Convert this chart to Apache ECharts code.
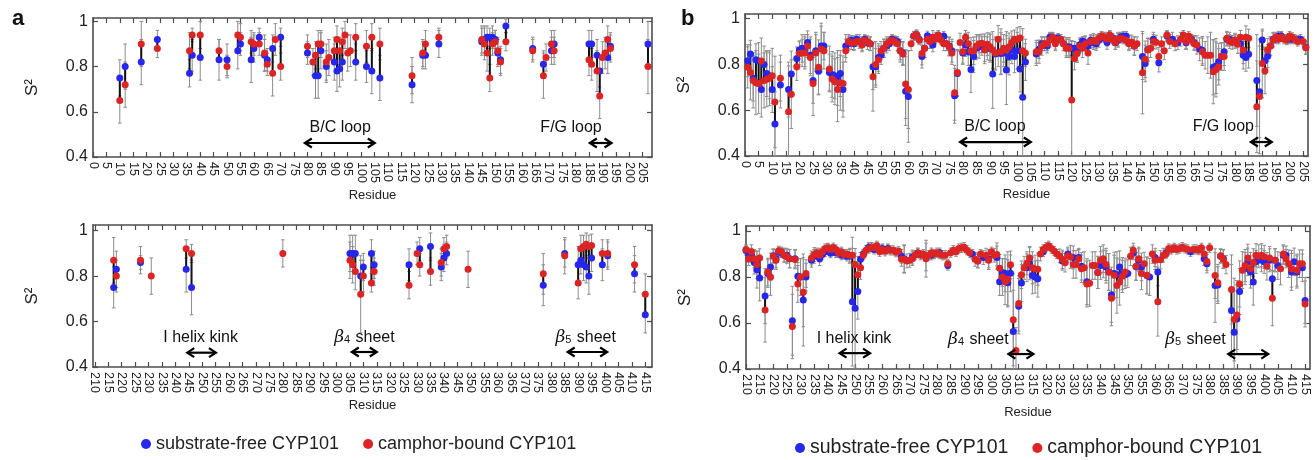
<!DOCTYPE html>
<html><head><meta charset="utf-8">
<script src="https://cdn.jsdelivr.net/npm/echarts@6/dist/echarts.min.js"></script>
<style>html,body{margin:0;padding:0;background:#fff}#c{width:1315px;height:460px}</style>
</head><body><div id="c"></div>
<script>
// ---------- tick labels ----------
const topTicks = [0,5,10,15,20,25,30,35,40,45,50,55,60,65,70,75,80,85,90,95,100,105,110,115,120,125,130,135,140,145,150,155,160,165,170,175,180,185,190,195,200,205];
const botTicks = [210,215,220,225,230,235,240,245,250,255,260,265,270,275,280,285,290,295,300,305,310,315,320,325,330,335,340,345,350,355,360,365,370,375,380,385,390,395,400,405,410,415];
const yTicks = [0.4,0.6,0.8,1];

// ---------- panel a, residues 0-209 ----------
const aTopRes = [10,12,18,24,36,37,40,47,50,54, 55,59,60,62,64,65,67,68,70,80, 82,83,84,85,87,88,90,91,92,93, 94,95,96,98,102,104,107,119,123,124, 129,145,146,147,148,149,150,151,152,154, 164,168,169,171,172,185,186,188,189,190, 191,192,193,207];
const aTopFree = [.75,.80,.82,.92,.77,.85,.84,.83,.83,.87, .90,.83,.88,.93,.85,.83,.88,null,.93,.86, null,.76,.76,.87,.80,null,.82,.78,.79,.82, null,null,null,.82,.80,.78,.75,.72,.85,.85, .90,.91,.92,.93,.93,.93,.92,.86,.83,.98, .88,.81,null,.87,.90,.90,.90,.85,.78,null, null,.84,.89,.90];
const aTopCamphor = [.65,.72,.90,.88,.87,.94,.94,.87,.80,.94, .93,.91,.90,.90,.86,.81,.77,.92,.80,.89, .82,.85,.90,.90,.82,.84,.87,.92,.87,.91, .94,.86,.87,.93,.89,.93,.90,.76,.86,.90, .93,.92,.90,.86,.75,.90,.91,.87,.82,.91, .87,.76,.84,.90,.87,.83,.81,.78,.67,.84, .86,.92,.88,.80];
const aTopFreeErr = [.08,.10,.10,.04,.06,.07,.10,.09,.07,.08, .05,.10,.06,.04,.07,.05,.06,0,.04,.05, 0,.10,.10,.08,.07,0,.08,.09,.08,.08, 0,0,0,.08,.07,.10,.10,.08,.06,.06, .06,.06,.06,.05,.04,.05,.04,.06,.06,.03, .05,.06,0,.06,.06,.06,.06,.07,.07,0, 0,.07,.06,.10];
const aTopCamphorErr = [.10,.10,.10,.04,.08,.03,.06,.05,.05,.06, .06,.05,.05,.05,.08,.05,.10,.07,.06,.05, .06,.06,.06,.06,.08,.08,.06,.06,.06,.06, .06,.08,.07,.06,.07,.06,.07,.08,.06,.06, .04,.06,.07,.08,.06,.05,.05,.06,.06,.04, .05,.10,.06,.06,.06,.07,.07,.09,.10,.07, .07,.06,.06,.12];

// ---------- panel a, residues 210-415 ----------
const aBotRes = [217,218,227,231,244,246,280,305,306,307, 309,310,313,314,327,330,331,335,339,340, 341,349,377,385,390,391,392,393,394,395, 399,401,411,415];
const aBotFree = [.75,.83,.86,null,.83,.75,null,.90,.90,.90, .80,.84,.90,.85,.85,null,.92,.93,.84,.88, .90,null,.76,.90,.85,.87,.85,.84,.80,.88, .85,.89,.81,.63];
const aBotCamphor = [.87,.80,.87,.80,.92,.90,.90,.87,.85,.82, .72,.80,.77,.82,.76,.90,.85,.82,.86,.92, .93,.83,.81,.89,.77,.92,.93,.94,.93,.935, .90,.90,.85,.72];
const aBotFreeErr = [.09,.08,.03,0,.10,.12,0,.08,.08,.08, .07,.06,.06,.06,.07,0,.05,.06,.06,.06, .05,0,.09,.06,.08,.06,.07,.07,.08,.06, .07,.06,.08,.08];
const aBotCamphorErr = [.10,.07,.06,.08,.04,.04,.06,.08,.08,.08, .17,.07,.04,.06,.06,.05,.05,.06,.06,.05, .05,.08,.09,.08,.07,.06,.05,.05,.05,.05, .06,.06,.08,.09];

// ---------- panel b, residues 0-206 ----------
const bTopRes = [1,2,3,4,5,6,7,8,9,10, 11,13,16,17,19,20,21,22,23,24, 25,26,27,28,29,31,32,33,34,35, 36,37,38,39,40,41,42,43,44,45, 46,47,48,49,50,51,52,53,54,55, 56,57,58,59,60,61,62,63,64,65, 66,67,68,69,70,71,72,73,74,75, 76,77,78,79,80,81,82,83,84,85, 86,87,88,89,90,91,92,93,94,95, 96,97,98,99,100,101,102,103,107,108, 109,110,111,112,113,114,115,116,117,118, 119,120,121,122,123,124,125,126,127,128, 129,130,131,132,133,134,135,136,137,138, 139,140,141,142,143,144,146,147,148,149, 150,151,152,153,154,155,156,157,158,159, 160,161,162,163,164,165,166,167,168,169, 170,171,172,173,174,175,176,177,178,179, 180,181,182,183,184,185,188,189,190,191, 192,193,194,195,196,197,198,199,200,201, 202,203,204,205,206];
const bTopFree = [.816,.845,.74,.82,.815,.69,.80,.76,.75,.69, .54,.71,.69,.758,.826,.863,.87,.86,.896,.84, .73,.86,.77,.88,.88,.765,.756,.75,.74,.76, .69,.88,.89,.905,.89,.91,.90,.89,.91,.895, .89,.79,.79,.83,.84,.87,.88,.89,.91,.905, .90,.86,.85,.683,.66,null,.924,.93,.91,.834, .87,.925,.90,.885,.92,.92,.91,.924,.89,.88, .86,.663,.76,null,.85,.885,.855,.778,.834,.87, .877,.88,.873,.87,.87,.758,.845,.85,.848,.85, .775,.834,.863,.834,.86,.78,.656,.81,.845,.866, .89,.89,.88,.92,.92,.897,.915,null,.89,.877, .877,.87,.87,.855,.886,.902,.895,.88,.905,.895, .89,.905,.92,.915,.896,.924,.915,.895,.905,.92, .924,.924,.896,null,.88,null,.834,.804,.865,null, .91,null,.807,null,null,.924,null,.91,null,.895, null,null,.895,null,.91,.896,null,.866,.862,null, null,null,.787,.793,.812,.834,.855,.91,.91,null, .90,null,.89,.84,.83,.844,.73,.68,.906,.816, .836,.88,.91,.91,.924,.924,null,.91,.91,.91, null,.906,.91,null,.875];
const bTopCamphor = [.787,.765,.73,.72,.715,.815,.73,.735,.74,.75, .636,.74,.593,.67,.79,.848,.85,.85,.88,.83, .717,.85,.787,.867,.86,.78,.736,.724,.69,.72, .717,.86,.90,.895,.895,.90,.90,.885,.905,.90, .89,.746,.80,.82,.86,.87,.89,.90,.905,.90, .89,.86,.845,.714,.69,.89,.924,.93,.906,.848, .87,.91,.90,.918,.91,.928,.906,.89,.89,.877, .85,.676,.765,.896,.855,.918,.89,.858,.86,.88, .89,.892,.863,.888,.877,.863,.85,.91,.855,.87, .863,.877,.896,.91,.91,.915,.86,.85,.855,.855, .88,.89,.89,.906,.918,.89,.91,.91,.89,.87, .87,.644,.826,.848,.88,.87,.89,.85,.90,.904, .90,.914,.924,.92,.91,.928,.91,.896,.91,.914, .91,.905,.89,.898,.88,.89,.764,.822,.863,.87, .90,.897,.834,.89,.86,.928,.90,null,.89,null, .91,.928,.90,.924,.906,.89,.885,null,.855,.84, .84,.84,.768,.778,.79,.834,.834,.914,.90,.896, .906,.888,.918,.863,.918,.914,.615,.66,.804,.772, .863,.88,.906,.92,.91,.92,.91,.906,.924,.918, .91,.90,null,.90,.873];
const bTopFreeErr = [.07,.06,.1,.07,.08,.12,.08,.1,.1,.1, .14,.1,.12,.1,.05,.04,.06,.07,.05,.08, .1,.08,.1,.1,.06,.08,.1,.1,.12,.1, .12,.05,.03,.02,.03,.02,.02,.03,.02,.03, .03,.1,.08,.06,.04,.04,.03,.03,.02,.02, .02,.04,.05,.15,.2,0,.02,.02,.02,.05, .04,.02,.03,.03,.02,.02,.02,.02,.03,.04, .05,.12,.1,0,.05,.05,.06,.1,.07,.05, .05,.04,.06,.05,.06,.15,.07,.06,.09,.06, .15,.08,.06,.07,.08,.1,.3,.08,.05,.04, .03,.03,.03,.02,.02,.03,.02,0,.03,.04, .04,.03,.03,.04,.03,.02,.03,.03,.02,.03, .03,.03,.02,.02,.03,.02,.02,.03,.03,.02, .02,.02,.03,0,.04,0,.1,.08,.05,0, .03,0,.04,0,0,.02,0,.03,0,.03, 0,0,.03,0,.02,.03,0,.05,.06,0, 0,0,.12,.12,.08,.06,.06,.03,.03,0, .03,0,.04,.06,.06,.06,.2,.2,.04,.06, .05,.04,.03,.02,.02,.02,0,.02,.02,.02, 0,.02,.02,0,.03];
const bTopCamphorErr = [.09,.12,.12,.14,.13,.1,.12,.12,.12,.12, .2,.1,.2,.15,.06,.05,.06,.07,.05,.08, .14,.08,.12,.1,.08,.1,.1,.1,.14,.12, .12,.05,.03,.03,.03,.02,.03,.03,.02,.02, .03,.15,.1,.06,.04,.04,.03,.02,.02,.02, .03,.05,.05,.15,.17,.03,.02,.02,.02,.05, .04,.02,.03,.03,.02,.02,.02,.03,.03,.04, .05,.12,.1,.04,.05,.03,.05,.06,.06,.05, .04,.04,.06,.05,.06,.08,.07,.06,.1,.06, .08,.06,.05,.04,.05,.05,.06,.06,.05,.05, .04,.03,.03,.03,.02,.03,.02,.02,.03,.04, .04,.26,.05,.04,.03,.04,.03,.05,.03,.03, .03,.02,.02,.02,.03,.02,.02,.03,.03,.02, .02,.02,.03,.03,.04,.03,.18,.08,.05,.04, .03,.03,.04,.03,.04,.02,.03,0,.03,0, .03,.02,.03,.02,.02,.03,.04,0,.06,.06, .08,.1,.14,.12,.08,.06,.06,.03,.03,.03, .03,.04,.03,.06,.05,.04,.2,.25,.15,.1, .05,.04,.03,.02,.02,.02,.02,.02,.02,.02, .02,.02,0,.02,.03];

// ---------- panel b, residues 210-415 ----------
const bBotRes = [210,211,212,213,214,215,217,218,219,220, 221,222,223,224,225,226,227,228,229,230, 231,232,234,235,236,237,238,239,240,241, 242,243,244,245,246,247,248,249,250,251, 252,253,254,255,256,257,258,259,260,261, 262,263,264,265,266,267,268,269,270,271, 272,273,274,275,276,277,278,279,280,281, 282,283,284,285,286,287,288,289,290,291, 292,293,294,295,296,297,298,299,300,301, 302,303,304,305,306,307,308,309,310,311, 312,313,314,315,316,317,318,319,320,321, 322,323,324,325,326,327,328,329,330,331, 332,333,334,335,336,337,338,339,340,341, 342,343,344,345,346,347,348,349,350,351, 352,353,354,355,356,357,358,359,360,361, 362,363,364,365,366,367,368,369,370,371, 372,373,374,375,376,377,378,379,380,382, 383,384,385,386,388,389,390,391,392,393, 394,395,396,397,398,399,400,401,402,403, 404,405,406,407,408,409,410,411,412,413, 414,415];
const bBotFree = [.915,.895,.895,.863,.832,.796,.717,.815,.844,.893, .88,.91,.905,.895,.895,.88,.61,.88,.803,.80, .70,.80,.873,.89,.898,.88,.898,.91,.924,.904, .915,.905,.906,.895,.898,.89,.89,.693,.664,.737, .877,.90,null,.93,.93,.92,.93,null,.924,null, .924,null,null,null,null,.89,.88,null,null,.887, null,.905,null,null,.887,null,.895,null,null,.906, null,null,.85,null,null,null,null,null,null,null, null,.90,null,.87,null,.885,null,.88,null,null, .885,.78,.82,.816,.775,.816,.563,null,.673,.774, null,.84,.858,.807,.80,.793,null,.91,null,null, null,null,null,null,.87,null,.90,null,.885,null, .885,.847,null,.78,null,null,null,.82,.85,.857, .844,.822,.723,.815,.81,.844,.815,.81,.815,null, .905,.845,.873,.844,null,.807,.80,null,.885,.822, null,null,.905,null,null,null,null,null,null,null, null,.91,null,null,null,null,.88,.858,null,.763, .765,.89,.88,null,.654,.56,.617,.737,null,.837, .866,.822,.778,.866,null,.873,.866,null,.873,.793, .873,.85,null,.895,.895,null,.822,.866,.822,null, .84,.698];
const bBotCamphor = [.92,.88,.91,.88,.854,.883,.657,.822,.80,.89, .873,.914,.91,.895,.888,.88,.585,.876,.77,.80, .734,.815,.883,.898,.906,.895,.91,.924,.927,.92, .928,.92,.904,.91,.898,.90,.895,.895,.854,.81, .84,.895,.917,.924,.93,.927,.936,.91,.92,.912, .92,.916,.916,.908,.912,.877,.877,.87,.873,.88, .895,.906,.895,.90,.88,.895,.906,.90,.906,.90, .895,.895,.858,.906,.917,.91,.924,.927,.93,.917, .906,null,.877,.87,.90,null,.895,.873,.91,.895, .898,.838,.80,.78,.79,.853,.614,.48,.685,.81, .84,.86,.883,.84,.835,.834,.90,.92,.93,.936, .924,.913,.90,.892,.877,.862,.892,.888,.855,.855, .88,.836,.84,.77,.773,.85,.85,.82,.873,.88, .855,.822,.708,.808,.763,.778,.803,.822,null,.89, .917,.847,.88,.815,.858,.807,null,.90,.873,.693, .875,.895,.90,.924,.92,.927,.92,.924,.93,.924, .92,null,.92,.92,.917,.927,.90,.868,.927,.807, .775,.893,.877,.854,.746,.615,.635,.77,.83,.85, .883,.837,.863,.895,.89,.895,.888,.847,.883,.708, .873,null,.836,.90,.88,.858,.836,null,.83,.858, .858,.683];
const bBotFreeErr = [.02,.03,.03,.05,.08,.1,.12,.06,.06,.03, .04,.02,.02,.03,.03,.04,.15,.04,.06,.08, .2,.06,.03,.03,.02,.03,.02,.02,.02,.02, .02,.02,.02,.02,.02,.02,.03,.28,.26,.12, .03,.02,0,.02,.02,.02,.02,0,.02,0, .02,0,0,0,0,.03,.06,0,0,.03, 0,.02,0,0,.06,0,.02,0,0,.02, 0,0,.02,0,0,0,0,0,0,0, 0,.02,0,.03,0,.03,0,.04,0,0, .05,.06,.06,.08,.1,.08,.18,0,.12,.08, 0,.06,.07,.08,.07,.08,0,.02,0,0, 0,0,0,0,.04,0,.03,0,.05,0, .04,.06,0,.1,0,0,0,.07,.06,.06, .07,.08,.12,.08,.1,.07,.07,.06,.06,0, .03,.06,.05,.06,0,.08,.08,0,.04,.06, 0,0,.02,0,0,0,0,0,0,0, 0,.02,0,0,0,0,.03,.04,0,.16, .08,.03,.04,0,.2,.18,.15,.1,0,.07, .06,.07,.1,.05,0,.05,.05,0,.05,.08, .05,.06,0,.04,.04,0,.08,.06,.07,0, .06,.1];
const bBotCamphorErr = [.02,.03,.03,.04,.06,.04,.14,.06,.08,.03, .04,.02,.02,.03,.03,.04,.14,.04,.08,.08, .15,.06,.03,.03,.02,.03,.02,.02,.02,.02, .02,.02,.02,.02,.02,.02,.03,.03,.05,.08, .05,.02,.02,.02,.02,.02,.02,.02,.02,.02, .02,.02,.02,.02,.02,.03,.06,.03,.03,.03, .02,.02,.02,.02,.08,.02,.02,.02,.02,.02, .02,.02,.02,.02,.02,.02,.02,.02,.02,.02, .02,0,.03,.03,.02,0,.03,.04,.02,.03, .05,.06,.08,.1,.12,.06,.2,.1,.12,.06, .05,.05,.05,.07,.06,.07,.03,.02,.02,.02, .02,.02,.02,.03,.04,.04,.03,.05,.06,.06, .04,.06,.07,.1,.1,.06,.06,.07,.06,.06, .07,.08,.12,.1,.12,.1,.07,.06,0,.04, .03,.06,.05,.07,.05,.08,0,.04,.04,.15, .04,.03,.02,.02,.02,.02,.02,.02,.02,.02, .02,0,.02,.02,.02,.02,.03,.04,.02,.1, .08,.03,.04,.04,.15,.18,.15,.1,.08,.07, .06,.07,.06,.05,.05,.05,.05,.06,.05,.12, .05,0,.07,.04,.04,.06,.08,0,.07,.06, .06,.1];

// ---------- annotations (label, text position, arrow span) ----------
const aTopNotes = ['B/C loop','F/G loop'];
const aTopNoteX = [92.2,178.3], aTopNoteY = [.53,.53], aTopArrowFrom = [79,185.3], aTopArrowTo = [105.1,193.4], aTopArrowY = [.462,.462];
const aBotNotes = ['I helix kink','{g|β}{s|4} sheet','{g|β}{s|5} sheet'];
const aBotNoteX = [249.4,310.4,392.8], aBotNoteY = [.53,.53,.53], aBotArrowFrom = [244.4,305.7,386.1], aBotArrowTo = [255.1,315,400.8], aBotArrowY = [.463,.466,.466];
const bTopNotes = ['B/C loop','F/G loop'];
const bTopNoteX = [91.8,175.7], bTopNoteY = [.53,.53], bTopArrowFrom = [79,185.8], bTopArrowTo = [105,193.5], bTopArrowY = [.461,.461];
const bBotNotes = ['I helix kink','{g|β}{s|4} sheet','{g|β}{s|5} sheet'];
const bBotNoteX = [249.6,295.2,374.8], bBotNoteY = [.534,.53,.53], bBotArrowFrom = [244.3,306.2,386.8], bBotArrowTo = [255.5,315.4,401.5], bBotArrowY = [.469,.465,.465];

const FREE = 'substrate-free CYP101', CAMPHOR = 'camphor-bound CYP101';
const BLUE = '#2626ee', RED = '#dc2424';
const FONT = '"Liberation Sans", Arial, Helvetica, sans-serif';

// ---------- layout ----------
const grids = [
  {left:93, top:18, width:559, height:139},
  {left:93, top:225, width:559, height:142},
  {left:745, top:14, width:563, height:142},
  {left:746, top:226, width:564, height:143}
];
const xRange = [[0,208.5],[209.3,417.5],[0,206.8],[210,416.8]];
const yRange = [[0.4,1.015],[0.4,1.025],[0.4,1.02],[0.4,1.022]];
const nameGaps = [32, 32, 32, 37];
const panels = [
  {res:aTopRes, free:aTopFree, camphor:aTopCamphor, fe:aTopFreeErr, ce:aTopCamphorErr, ticks:topTicks,
   notes:aTopNotes, nx:aTopNoteX, ny:aTopNoteY, af:aTopArrowFrom, at:aTopArrowTo, ay:aTopArrowY, size:7},
  {res:aBotRes, free:aBotFree, camphor:aBotCamphor, fe:aBotFreeErr, ce:aBotCamphorErr, ticks:botTicks,
   notes:aBotNotes, nx:aBotNoteX, ny:aBotNoteY, af:aBotArrowFrom, at:aBotArrowTo, ay:aBotArrowY, size:7},
  {res:bTopRes, free:bTopFree, camphor:bTopCamphor, fe:bTopFreeErr, ce:bTopCamphorErr, ticks:topTicks,
   notes:bTopNotes, nx:bTopNoteX, ny:bTopNoteY, af:bTopArrowFrom, at:bTopArrowTo, ay:bTopArrowY, size:7},
  {res:bBotRes, free:bBotFree, camphor:bBotCamphor, fe:bBotFreeErr, ce:bBotCamphorErr, ticks:botTicks,
   notes:bBotNotes, nx:bBotNoteX, ny:bBotNoteY, af:bBotArrowFrom, at:bBotArrowTo, ay:bBotArrowY, size:7}
];

const AX = '#4d4d4d';
const xAxes = [], yAxes = [], series = [];
panels.forEach((p, g) => {
  const axLine = {show:true, onZero:false, lineStyle:{color:AX, width:1.6}};
  const tickStyle = {color:AX, width:1.2};
  xAxes.push({gridIndex:g, type:'value', position:'bottom', min:xRange[g][0], max:xRange[g][1],
    name:'Residue', nameLocation:'middle', nameGap:nameGaps[g], nameMoveOverlap:false,
    nameTextStyle:{fontSize:13, color:'#222', fontFamily:FONT},
    axisLine:axLine, splitLine:{show:false},
    axisTick:{show:true, inside:true, length:5, customValues:p.ticks, lineStyle:tickStyle},
    axisLabel:{customValues:p.ticks, rotate:-90, fontSize:12.5, color:'#222', margin:5, fontFamily:FONT,
      showMinLabel:true, showMaxLabel:true, hideOverlap:false}});
  xAxes.push({gridIndex:g, type:'value', position:'top', min:xRange[g][0], max:xRange[g][1],
    axisLine:axLine, splitLine:{show:false}, axisLabel:{show:false},
    axisTick:{show:true, inside:true, length:5, customValues:p.ticks, lineStyle:tickStyle}});
  yAxes.push({gridIndex:g, type:'value', position:'left', min:yRange[g][0], max:yRange[g][1],
    name:'S²', nameLocation:'middle', nameGap:52, nameTextStyle:{fontSize:17, color:'#222', fontFamily:FONT},
    axisLine:axLine, splitLine:{show:false},
    axisTick:{show:true, inside:true, length:5, customValues:yTicks, lineStyle:tickStyle},
    axisLabel:{customValues:yTicks, fontSize:16, color:'#222', margin:5, fontFamily:FONT,
      showMinLabel:true, showMaxLabel:true,
      formatter: v => (Math.abs(v-1) < 1e-9 ? '1' : v.toFixed(1))}});
  yAxes.push({gridIndex:g, type:'value', position:'right', min:yRange[g][0], max:yRange[g][1],
    axisLine:axLine, splitLine:{show:false}, axisLabel:{show:false},
    axisTick:{show:true, inside:true, length:5, customValues:yTicks, lineStyle:tickStyle}});

  const ymin = yRange[g][0], ymax = yRange[g][1];
  // error bars
  const errData = [];
  const addErr = (vals, errs) => p.res.forEach((r, i) => {
    if (vals[i] == null || !errs[i]) return;
    const lo = vals[i] - errs[i], hi = vals[i] + errs[i];
    errData.push([r, Math.max(ymin, lo), Math.min(ymax, hi), lo >= ymin ? 1 : 0, hi <= ymax ? 1 : 0]);
  });
  addErr(p.free, p.fe); addErr(p.camphor, p.ce);
  series.push({type:'custom', xAxisIndex:2*g, yAxisIndex:2*g, silent:true, z:1, data:errData,
    encode:{x:0, y:[1,2]},
    renderItem(params, api) {
      const x = api.value(0);
      const lo = api.coord([x, api.value(1)]), hi = api.coord([x, api.value(2)]);
      const st = {stroke:'#8c8c8c', lineWidth:1};
      const c = [{type:'line', shape:{x1:lo[0], y1:lo[1], x2:hi[0], y2:hi[1]}, style:st}];
      if (api.value(3)) c.push({type:'line', shape:{x1:lo[0]-1.8, y1:lo[1], x2:lo[0]+1.8, y2:lo[1]}, style:st});
      if (api.value(4)) c.push({type:'line', shape:{x1:hi[0]-1.8, y1:hi[1], x2:hi[0]+1.8, y2:hi[1]}, style:st});
      return {type:'group', children:c};
    }});
  // black connectors between the two states
  const conData = [];
  p.res.forEach((r, i) => { if (p.free[i] != null && p.camphor[i] != null) conData.push([r, p.free[i], p.camphor[i]]); });
  series.push({type:'custom', xAxisIndex:2*g, yAxisIndex:2*g, silent:true, z:2, data:conData,
    encode:{x:0, y:[1,2]},
    renderItem(params, api) {
      const a = api.coord([api.value(0), api.value(1)]), b = api.coord([api.value(0), api.value(2)]);
      return {type:'line', shape:{x1:a[0], y1:a[1], x2:b[0], y2:b[1]}, style:{stroke:'#111', lineWidth:2}};
    }});
  const pts = vals => { const d = []; p.res.forEach((r, i) => { if (vals[i] != null) d.push([r, vals[i]]); }); return d; };
  series.push({type:'scatter', name:FREE, xAxisIndex:2*g, yAxisIndex:2*g, z:3, symbolSize:p.size,
    itemStyle:{color:BLUE, opacity:1}, data:pts(p.free), silent:true});
  series.push({type:'scatter', name:CAMPHOR, xAxisIndex:2*g, yAxisIndex:2*g, z:4, symbolSize:p.size,
    itemStyle:{color:RED, opacity:1}, data:pts(p.camphor), silent:true});
  // annotations
  const annData = p.notes.map((t, i) => [p.nx[i], p.ny[i], p.af[i], p.at[i], p.ay[i], i]);
  series.push({type:'custom', xAxisIndex:2*g, yAxisIndex:2*g, silent:true, z:6, data:annData,
    encode:{x:0, y:1},
    renderItem(params, api) {
      const i = api.value(5);
      const t = api.coord([api.value(0), api.value(1)]);
      const a1 = api.coord([api.value(2), api.value(4)]), a2 = api.coord([api.value(3), api.value(4)]);
      const h = 7, w = 4.5, st = {stroke:'#000', lineWidth:2.2, fill:null, lineJoin:'miter'};
      return {type:'group', children:[
        {type:'text', x:t[0], y:t[1], style:{text:p.notes[i], fontSize:16, fontFamily:FONT, fill:'#111',
          align:'center', verticalAlign:'middle',
          rich:{g:{fontStyle:'italic', fontSize:17, fontFamily:'"DejaVu Serif", serif', fill:'#111'},
                s:{fontSize:11, fontFamily:FONT, fill:'#111', verticalAlign:'bottom', padding:[0,1,0,0]}}}},
        {type:'line', shape:{x1:a1[0]+1, y1:a1[1], x2:a2[0]-1, y2:a2[1]}, style:st},
        {type:'polyline', shape:{points:[[a1[0]+h, a1[1]-w], [a1[0], a1[1]], [a1[0]+h, a1[1]+w]]}, style:st},
        {type:'polyline', shape:{points:[[a2[0]-h, a2[1]-w], [a2[0], a2[1]], [a2[0]-h, a2[1]+w]]}, style:st}
      ]};
    }});
});

const chart = echarts.init(document.getElementById('c'), null, {renderer:'canvas'});
chart.setOption({
  animation:false,
  backgroundColor:'#fff',
  textStyle:{fontFamily:FONT},
  grid:grids,
  xAxis:xAxes,
  yAxis:yAxes,
  legend:[
    {left:136, top:430, icon:'circle', itemWidth:10, itemHeight:10, itemGap:24,
     textStyle:{fontSize:18, color:'#222', fontFamily:FONT}, data:[FREE, CAMPHOR], selectedMode:false},
    {left:790, top:433, icon:'circle', itemWidth:10, itemHeight:10, itemGap:24,
     textStyle:{fontSize:19.5, color:'#222', fontFamily:FONT}, data:[FREE, CAMPHOR], selectedMode:false}
  ],
  graphic:[
    {type:'text', left:12, top:8, style:{text:'a', fontSize:22, fontWeight:'bold', fill:'#111', fontFamily:FONT}},
    {type:'text', left:681, top:8, style:{text:'b', fontSize:22, fontWeight:'bold', fill:'#111', fontFamily:FONT}}
  ],
  series:series
});
</script>
</body></html>
